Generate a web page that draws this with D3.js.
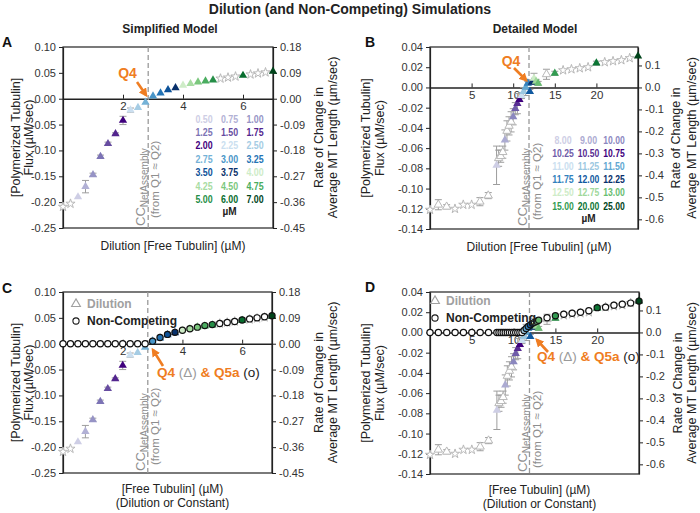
<!DOCTYPE html>
<html><head><meta charset="utf-8">
<script src="https://cdn.jsdelivr.net/npm/d3@7"></script>
<style>body{margin:0;background:#fff;} svg{display:block;}</style>
</head><body><svg id="c" width="700" height="513"></svg>
<script>
// ---------------- DATA ----------------
const chartTitle = "Dilution (and Non-Competing) Simulations";
const modelTitles = ["Simplified Model", "Detailed Model"];

// Simplified model
const simpleConc = [0.00,0.25,0.50,0.75,1.00,1.25,1.50,1.75,2.00,2.25,2.50,2.75,3.00,3.25,3.50,3.75,4.00,4.25,4.50,4.75,5.00,5.25,5.50,5.75,6.00,6.25,6.50,6.75,7.00];
const simpleFlux = [-0.209,-0.203,-0.190,-0.170,-0.147,-0.112,-0.087,-0.068,-0.042,-0.022,-0.017,-0.007,0.005,0.011,0.017,0.021,0.026,0.029,0.032,0.034,0.036,0.039,0.041,0.043,0.045,0.047,0.049,0.051,0.053];
const simpleErr = [0,0,0,0.012,0.003,0.003,0.003,0.002,0.008,0.004,0,0,0,0,0,0,0,0,0,0,0,0,0,0,0,0,0,0,0];
const simpleNonCompeting = [0,0,0,0,0,0,0,0,0,0,0,0,0.005,0.012,0.018,0.022,0.026,0.029,0.032,0.035,0.037,0.039,0.041,0.043,0.046,0.048,0.050,0.052,0.054];
const simpleLegend = [0.50,0.75,1.00,1.25,1.50,1.75,2.00,2.25,2.50,2.75,3.00,3.25,3.50,3.75,4.00,4.25,4.50,4.75,5.00,6.00,7.00];
const simpleCC = 2.84;
const simpleXDomain = [0, 7];
const simpleYDomain = [-0.25, 0.10];
const simpleRightDomain = [-0.45, 0.18];
const simpleXTicks = [2, 4, 6];
const simpleLeftTicks = [0.10,0.05,0.00,-0.05,-0.10,-0.15,-0.20,-0.25];
const simpleRightTicks = [0.18,0.09,0.00,-0.09,-0.18,-0.27,-0.36,-0.45];

// Detailed model
const detailedConc = [0,1,2,3,4,5,6,7,8.00,8.25,8.50,8.75,9.00,9.25,9.50,9.75,10.00,10.25,10.50,10.75,11.00,11.25,11.50,11.75,12.00,12.25,12.50,12.75,13.00,14,15,16,17,18,19,20,21,22,23,24,25];
const detailedFlux = [-0.121,-0.116,-0.118,-0.120,-0.116,-0.116,-0.113,-0.107,-0.077,-0.070,-0.068,-0.064,-0.052,-0.043,-0.038,-0.034,-0.029,-0.021,-0.016,-0.012,-0.008,-0.004,0.000,0.004,-0.004,0.005,0.009,0.006,0.004,0.013,0.014,0.017,0.018,0.019,0.020,0.024,0.025,0.026,0.027,0.029,0.031];
const detailedErr = [0,0.005,0.002,0,0,0,0.004,0.003,0.019,0.008,0.006,0.006,0.010,0.010,0.009,0.010,0.008,0.006,0.010,0.002,0.003,0.004,0.008,0.002,0.002,0.002,0.005,0.002,0.002,0.005,0.002,0,0,0,0,0.002,0,0,0,0,0];
const detailedNonCompeting = [0,0,0,0,0,0,0,0,0,0,0,0,0,0,0,0,0,0,0,0,0,0.002,0.004,0.006,0.0075,0.009,0.010,0.011,0.012,0.0145,0.0165,0.018,0.019,0.020,0.0215,0.0245,0.025,0.027,0.028,0.029,0.031];
const detailedLegend = [8.00,9.00,10.00,10.25,10.50,10.75,11.00,11.25,11.50,11.75,12.00,12.25,12.50,12.75,13.00,15.00,20.00,25.00];
const detailedCC = 11.9;
const detailedXDomain = [0, 25];
const detailedYDomain = [-0.14, 0.04];
const detailedRightDomain = [-0.644, 0.184];
const detailedXTicks = [5, 10, 15, 20];
const detailedLeftTicks = [0.04,0.02,0.00,-0.02,-0.04,-0.06,-0.08,-0.10,-0.12,-0.14];
const detailedRightTicks = [0.1,0.0,-0.1,-0.2,-0.3,-0.4,-0.5,-0.6];

const panelLetters = ["A","B","C","D"];
const seriesNames = ["Dilution", "Non-Competing"];

// ---------------- BUILD ----------------
const FONT = '"Liberation Sans", Arial, Helvetica, sans-serif';
const ORANGE = "#ef7d22";
const GRAYMARK = "#b8b8b8";
const ERRC = "#9d9d9d";
const svg = d3.select("#c").attr("font-family", FONT);

svg.append("defs").append("marker")
  .attr("id","arr").attr("viewBox","0 0 10 10").attr("refX",7).attr("refY",5)
  .attr("markerWidth",3.4).attr("markerHeight",3.4).attr("orient","auto")
  .append("path").attr("d","M0,0L10,5L0,10z").attr("fill",ORANGE);

const models = {
  simple: {conc: simpleConc, flux: simpleFlux, err: simpleErr, nc: simpleNonCompeting, legend: simpleLegend,
    cc: simpleCC, xd: simpleXDomain, yd: simpleYDomain, rd: simpleRightDomain, xt: simpleXTicks,
    lt: simpleLeftTicks, rt: simpleRightTicks, ld: 2, rdg: 2, xlab: "Dilution [Free Tubulin] (µM)"},
  detailed: {conc: detailedConc, flux: detailedFlux, err: detailedErr, nc: detailedNonCompeting, legend: detailedLegend,
    cc: detailedCC, xd: detailedXDomain, yd: detailedYDomain, rd: detailedRightDomain, xt: detailedXTicks,
    lt: detailedLeftTicks, rt: detailedRightTicks, ld: 2, rdg: 1, xlab: "Dilution [Free Tubulin] (µM)"}
};

function colorFor(legend) {
  const n = legend.length / 3;
  const interps = [d3.interpolatePurples, d3.interpolateBlues, d3.interpolateGreens];
  const lows = [0.3, 0.22, 0.22];
  return v => {
    const i = legend.findIndex(l => Math.abs(l - v) < 1e-9);
    if (i < 0) return null;
    const g = Math.floor(i / n), k = i % n;
    return interps[g](lows[g] + (1 - lows[g]) * k / (n - 1));
  };
}
const fmt = dg => d => (Math.abs(d) < 1e-9 ? 0 : d).toFixed(dg);

// layout
const panels = [
  {letter: 0, model: "simple", nc: false, x: [63, 273], y: [47, 228], lx: 2, ly: 47,
   yl: [19.5, 32.5], yr: [322.5, 336.5],
   leg: {x0: 204, dx: 25.5, y0: 119, dy: 13.4},
   cc: {a: 145, b: 159, y1: 226, y2: 218},
   q: {tx: 127.5, ty: 78, ax1: 137, ay1: 82, ax2: 146, ay2: 95}},
  {letter: 1, model: "detailed", nc: false, x: [430, 638], y: [47, 229], lx: 365, ly: 47,
   yl: [369.5, 383.5], yr: [679.5, 695.5],
   leg: {x0: 563, dx: 25.5, y0: 140, dy: 13.2},
   cc: {a: 527, b: 541, y1: 226, y2: 220},
   q: {tx: 511, ty: 66, ax1: 514, ay1: 68, ax2: 526, ay2: 80}},
  {letter: 2, model: "simple", nc: true, x: [63, 272], y: [292, 473], lx: 2, ly: 293,
   yl: [19.5, 32.5], yr: [322.5, 336.5],
   sl: {x: 76, y1: 304, y2: 321},
   cc: {a: 145, b: 159, y1: 471, y2: 465},
   q: {tx: 157, ty: 377, ax1: 163, ay1: 366, ax2: 153, ay2: 350}},
  {letter: 3, model: "detailed", nc: true, x: [430, 639], y: [292, 474], lx: 365, ly: 292,
   yl: [369.5, 383.5], yr: [681.5, 695.5],
   sl: {x: 435, y1: 301, y2: 318},
   cc: {a: 527, b: 541, y1: 472, y2: 468},
   q: {tx: 537, ty: 361, ax1: 548, ay1: 352, ax2: 537, ay2: 340}}
];

// title
svg.append("text").attr("x", 350).attr("y", 14).attr("text-anchor","middle")
  .attr("font-size", 14).attr("font-weight","bold").attr("fill","#222").text(chartTitle);
svg.append("text").attr("x", 170).attr("y", 33).attr("text-anchor","middle")
  .attr("font-size", 12).attr("font-weight","bold").attr("fill","#222").text(modelTitles[0]);
svg.append("text").attr("x", 535).attr("y", 33).attr("text-anchor","middle")
  .attr("font-size", 12).attr("font-weight","bold").attr("fill","#222").text(modelTitles[1]);

function styleAxis(sel) {
  sel.select(".domain").attr("stroke", "#222").attr("stroke-width", 1.2);
  sel.selectAll(".tick line").attr("stroke", "#222");
  sel.selectAll(".tick text").attr("font-size", 11).attr("fill", "#333").attr("font-family", FONT);
}

panels.forEach(p => {
  const m = models[p.model];
  const x = d3.scaleLinear().domain(m.xd).range(p.x);
  const y = d3.scaleLinear().domain(m.yd).range([p.y[1], p.y[0]]);
  const yr = d3.scaleLinear().domain(m.rd).range([p.y[1], p.y[0]]);
  const col = colorFor(m.legend);
  const g = svg.append("g");

  // frame
  g.append("rect").attr("x", p.x[0]).attr("y", p.y[0]).attr("width", p.x[1]-p.x[0]).attr("height", p.y[1]-p.y[0])
    .attr("fill","none").attr("stroke","#222").attr("stroke-width",1.2);

  g.append("g").attr("transform",`translate(${p.x[0]},0)`)
    .call(d3.axisLeft(y).tickValues(m.lt).tickFormat(fmt(m.ld)).tickSize(4).tickSizeOuter(0).tickPadding(3))
    .call(styleAxis);
  g.append("g").attr("transform",`translate(${p.x[1]},0)`)
    .call(d3.axisRight(yr).tickValues(m.rt).tickFormat(fmt(m.rdg)).tickSize(4).tickSizeOuter(0).tickPadding(3))
    .call(styleAxis);
  g.append("g").attr("transform",`translate(0,${y(0)})`)
    .call(d3.axisBottom(x).tickValues(m.xt).tickFormat(d3.format("d")).tickSize(-4).tickSizeOuter(0).tickPadding(3))
    .call(styleAxis).call(s => s.select(".domain").attr("stroke-width",1.5))
    .call(s => s.selectAll(".tick text").attr("font-size", 11.5));

  // CC dashed line
  g.append("line").attr("x1", x(m.cc)).attr("x2", x(m.cc)).attr("y1", p.y[0]).attr("y2", p.y[1])
    .attr("stroke","#9a9a9a").attr("stroke-width",1.3).attr("stroke-dasharray","5,3");

  const data = m.conc.map((c, i) => ({c, f: m.flux[i], e: m.err[i], n: m.nc[i], color: col(c)}));

  // error bars
  const eb = g.append("g").attr("stroke", ERRC).attr("stroke-width", 1);
  data.filter(d => d.e > 0).forEach(d => {
    eb.append("line").attr("x1", x(d.c)).attr("x2", x(d.c)).attr("y1", y(d.f - d.e)).attr("y2", y(d.f + d.e));
    [d.f - d.e, d.f + d.e].forEach(v => eb.append("line").attr("x1", x(d.c) - 3.5).attr("x2", x(d.c) + 3.5).attr("y1", y(v)).attr("y2", y(v)));
  });

  // dilution markers
  const tri = d3.symbol().type(d3.symbolTriangle).size(30);
  const star = d3.symbol().type(d3.symbolStar).size(26);
  g.append("g").selectAll("path").data(data).join("path")
    .attr("transform", d => `translate(${x(d.c)},${y(d.f)})`)
    .attr("d", d => (d.color || d.e > 0) ? tri() : star())
    .attr("fill", d => d.color || "#fff")
    .attr("stroke", d => d.color ? "none" : GRAYMARK)
    .attr("stroke-width", 1);

  // non-competing markers
  if (p.nc) {
    g.append("g").selectAll("circle").data(data).join("circle")
      .attr("cx", d => x(d.c)).attr("cy", d => y(d.n)).attr("r", 3.1)
      .attr("fill", d => (d.color && d.n > 0) ? d.color : "#fff")
      .attr("stroke", "#111").attr("stroke-width", 1.2);
  }

  // CC text
  const ct = g.append("text").attr("transform", `translate(${p.cc.a},${p.cc.y1}) rotate(-90)`)
    .attr("fill", "#8e8e8e").attr("font-size", 13);
  ct.append("tspan").text("CC");
  ct.append("tspan").attr("font-size", 10).attr("dy", 3).text("NetAssembly");
  g.append("text").attr("transform", `translate(${p.cc.b},${p.cc.y2}) rotate(-90)`)
    .attr("fill", "#8e8e8e").attr("font-size", 11.5).text("(from Q1 ≈ Q2)");

  // arrow + label
  g.append("line").attr("x1", p.q.ax1).attr("y1", p.q.ay1).attr("x2", p.q.ax2).attr("y2", p.q.ay2)
    .attr("stroke", ORANGE).attr("stroke-width", 2.6).attr("marker-end", "url(#arr)");
  if (!p.nc) {
    g.append("text").attr("x", p.q.tx).attr("y", p.q.ty).attr("text-anchor","middle")
      .attr("font-size", 14).attr("font-weight","bold").attr("fill", ORANGE).text("Q4");
  } else {
    const qt = g.append("text").attr("x", p.q.tx).attr("y", p.q.ty).attr("font-size", 13.5);
    qt.append("tspan").attr("font-weight","bold").attr("fill", ORANGE).text("Q4 ");
    qt.append("tspan").attr("fill", "#9a9a9a").text("(Δ)");
    qt.append("tspan").attr("font-weight","bold").attr("fill", ORANGE).text(" & Q5a ");
    qt.append("tspan").attr("fill", "#222").text("(o)");
  }

  // panel letter
  g.append("text").attr("x", p.lx).attr("y", p.ly).attr("font-size", 14).attr("font-weight","bold").attr("fill","#111")
    .text(panelLetters[p.letter]);

  // axis titles
  const ycen = (p.y[0] + p.y[1]) / 2;
  [["[Polymerized Tubulin]", p.yl[0]], ["Flux (µM/sec)", p.yl[1]]].forEach(([t, xx]) =>
    g.append("text").attr("transform", `translate(${xx},${ycen}) rotate(-90)`).attr("text-anchor","middle")
      .attr("font-size", 12.5).attr("fill","#222").text(t));
  [["Rate of Change in", p.yr[0]], ["Average MT Length (µm/sec)", p.yr[1]]].forEach(([t, xx]) =>
    g.append("text").attr("transform", `translate(${xx},${ycen}) rotate(-90)`).attr("text-anchor","middle")
      .attr("font-size", 12.5).attr("fill","#222").text(t));
  const xc = (p.x[0] + p.x[1]) / 2 + 5;
  if (!p.nc) {
    g.append("text").attr("x", xc).attr("y", p.y[1] + 22).attr("text-anchor","middle")
      .attr("font-size", 12).attr("fill","#222").text(m.xlab);
  } else {
    g.append("text").attr("x", xc).attr("y", p.y[1] + 20).attr("text-anchor","middle")
      .attr("font-size", 12).attr("fill","#222").text("[Free Tubulin] (µM)");
    g.append("text").attr("x", xc).attr("y", p.y[1] + 34).attr("text-anchor","middle")
      .attr("font-size", 12).attr("fill","#222").text("(Dilution or Constant)");
  }

  // concentration legend
  if (p.leg) {
    const L = p.leg;
    m.legend.forEach((v, i) => {
      const r = Math.floor(i / 3), c = i % 3;
      const s = v.toFixed(2);
      g.append("text").attr("x", L.x0 + c * L.dx).attr("y", L.y0 + r * L.dy).attr("dy","0.35em")
        .attr("text-anchor","middle").attr("font-size", 10.5).attr("font-weight","bold")
        .attr("textLength", s.length * 4.3).attr("lengthAdjust","spacingAndGlyphs")
        .attr("fill", col(v)).text(s);
    });
    const rows = Math.ceil(m.legend.length / 3);
    g.append("text").attr("x", L.x0 + L.dx).attr("y", L.y0 + rows * L.dy - 1).attr("dy","0.35em")
      .attr("text-anchor","middle").attr("font-size", 10).attr("font-weight","bold").attr("fill","#222").text("µM");
  }

  // series legend
  if (p.sl) {
    const S = p.sl;
    g.append("path").attr("transform", `translate(${S.x},${S.y1})`).attr("d", d3.symbol().type(d3.symbolTriangle).size(34)())
      .attr("fill","#fff").attr("stroke","#a0a0a0").attr("stroke-width",1.1);
    g.append("text").attr("x", S.x + 11).attr("y", S.y1 + 4).attr("font-size", 12).attr("font-weight","bold")
      .attr("fill","#a0a0a0").text(seriesNames[0]);
    g.append("circle").attr("cx", S.x).attr("cy", S.y2).attr("r", 3.1).attr("fill","#fff").attr("stroke","#1a1a1a").attr("stroke-width",1.1);
    g.append("text").attr("x", S.x + 11).attr("y", S.y2 + 4).attr("font-size", 12).attr("font-weight","bold")
      .attr("fill","#222").text(seriesNames[1]);
  }
});
</script></body></html>
